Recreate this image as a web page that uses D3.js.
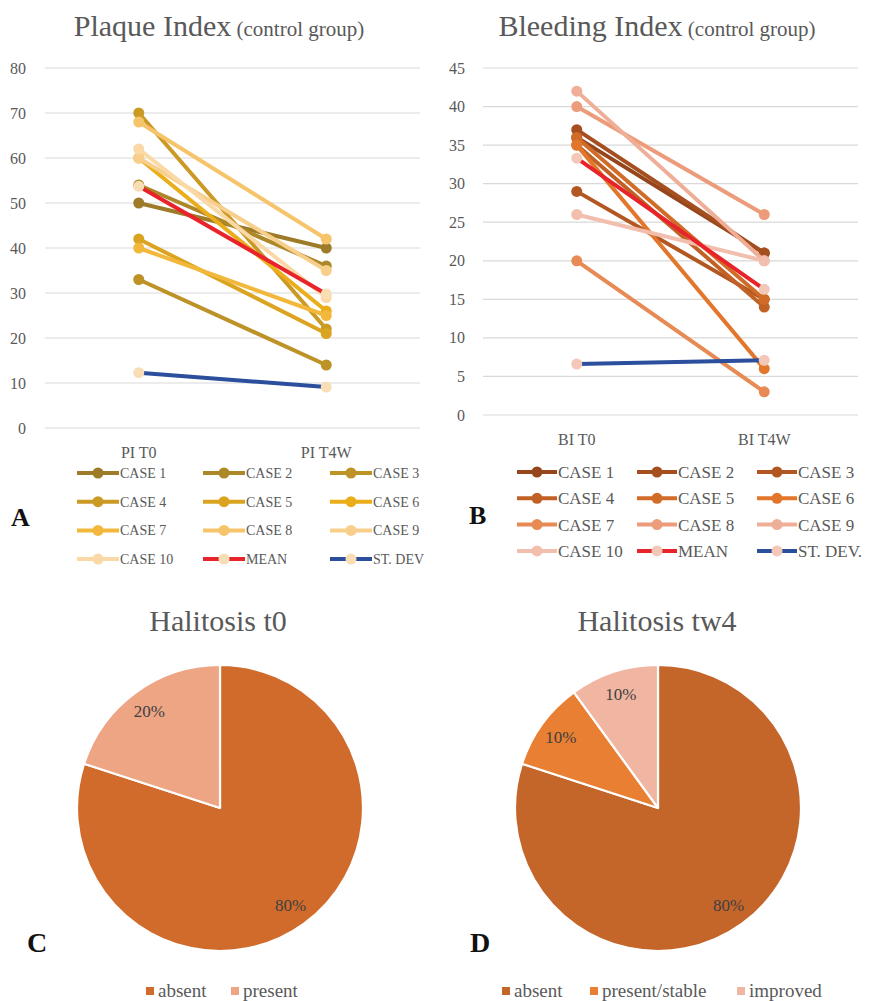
<!DOCTYPE html>
<html>
<head>
<meta charset="utf-8">
<script src="https://cdn.jsdelivr.net/npm/d3@7"></script>
<style>
  html, body { margin: 0; padding: 0; background: #fff; }
  svg { display: block; }
  text { font-family: "Liberation Serif", "DejaVu Serif", serif; }
</style>
</head>
<body>
<svg id="chart" width="869" height="1001"></svg>
<script>
// ---------- DATA ----------
const piCategories = ["PI T0", "PI T4W"];
const piTicks = [0, 10, 20, 30, 40, 50, 60, 70, 80];
const piSeriesNames = ["CASE 1","CASE 2","CASE 3","CASE 4","CASE 5","CASE 6","CASE 7","CASE 8","CASE 9","CASE 10","MEAN","ST. DEV"];
const piCase1 = [50, 40];
const piCase2 = [54, 36];
const piCase3 = [33, 14];
const piCase4 = [70, 22];
const piCase5 = [42, 21];
const piCase6 = [60, 26];
const piCase7 = [40, 25];
const piCase8 = [68, 42];
const piCase9 = [60, 35];
const piCase10 = [62, 29];
const piMean = [53.7, 29.8];
const piStDev = [12.3, 9.1];

const biCategories = ["BI T0", "BI T4W"];
const biTicks = [0, 5, 10, 15, 20, 25, 30, 35, 40, 45];
const biSeriesNames = ["CASE 1","CASE 2","CASE 3","CASE 4","CASE 5","CASE 6","CASE 7","CASE 8","CASE 9","CASE 10","MEAN","ST. DEV."];
const biCase1 = [36, 21];
const biCase2 = [37, 21];
const biCase3 = [29, 15];
const biCase4 = [35, 14];
const biCase5 = [36, 15];
const biCase6 = [35, 6];
const biCase7 = [20, 3];
const biCase8 = [40, 26];
const biCase9 = [42, 20];
const biCase10 = [26, 20];
const biMean = [33.3, 16.3];
const biStDev = [6.6, 7.1];

const halT0Labels = ["absent", "present"];
const halT0Values = [80, 20];
const halT4Labels = ["absent", "present/stable", "improved"];
const halT4Values = [80, 10, 10];

// ---------- STYLES ----------
const piColors = ["#9E7B28","#AD8829","#BD9227","#CB9A25","#DAA420","#EAAE1B","#F2B83C","#F6C46A","#F8CE8B","#FAD9A7","#E8232A","#2B4F9C"];
const piMarkerColors = piColors.slice(0,10).concat(["#F9DDB5","#F9DDB5"]);
const biColors = ["#96461C","#A54E1F","#B35722","#C26126","#D06B28","#E2772B","#E88A53","#EC9C7A","#EFAE97","#F2BFAE","#E8232A","#2B4F9C"];
const biMarkerColors = biColors.slice(0,10).concat(["#F4C8B8","#F4C8B8"]);
const halT0Colors = ["#D16B2B", "#EDA584"];
const halT4Colors = ["#C4652A", "#E97F33", "#F0B6A2"];
const textGray = "#595959";

const svg = d3.select("#chart");
svg.append("rect").attr("width", 869).attr("height", 1001).attr("fill", "#fff");

function lineChart(opts) {
  const g = svg.append("g");
  const x = d3.scalePoint().domain(opts.categories).range([opts.x0, opts.x1]).padding(0.5);
  const y = d3.scaleLinear().domain([0, opts.yMax]).range([opts.yBottom, opts.yTop]);

  // title
  const t = g.append("text").attr("x", opts.titleX).attr("y", opts.titleY)
    .attr("text-anchor", "middle").attr("fill", textGray);
  t.append("tspan").attr("font-size", 30).text(opts.title);
  t.append("tspan").attr("font-size", 21).text(" (control group)");

  // gridlines + tick labels
  g.selectAll(".grid").data(opts.ticks).join("line")
    .attr("x1", opts.x0).attr("x2", opts.x1)
    .attr("y1", d => y(d)).attr("y2", d => y(d))
    .attr("stroke", "#D9D9D9").attr("stroke-width", 1.2);
  g.selectAll(".tl").data(opts.ticks).join("text")
    .attr("x", opts.tickX).attr("y", d => y(d) + 5.5)
    .attr("text-anchor", "end").attr("font-size", 16).attr("fill", textGray)
    .text(d => d);

  // category labels
  g.selectAll(".cat").data(opts.categories).join("text")
    .attr("x", d => x(d)).attr("y", opts.catY)
    .attr("text-anchor", "middle").attr("font-size", 16).attr("fill", textGray)
    .text(d => d);

  const line = d3.line().x((d, i) => x(opts.categories[i])).y(d => y(d));
  opts.series.forEach((s, k) => {
    const sg = g.append("g");
    sg.append("path").datum(s).attr("d", line)
      .attr("fill", "none").attr("stroke", opts.colors[k]).attr("stroke-width", 4)
      .attr("stroke-linecap", "round");
    sg.selectAll("circle").data(s).join("circle")
      .attr("cx", (d, i) => x(opts.categories[i])).attr("cy", d => y(d))
      .attr("r", 5.5).attr("fill", opts.markerColors[k]);
  });

  // legend
  const lg = g.append("g");
  opts.names.forEach((n, k) => {
    const col = k % 3, row = Math.floor(k / 3);
    const lx = opts.legX[col], ly = opts.legY0 + row * opts.legDY;
    lg.append("line").attr("x1", lx).attr("x2", lx + opts.legLen)
      .attr("y1", ly).attr("y2", ly)
      .attr("stroke", opts.colors[k]).attr("stroke-width", 4);
    lg.append("circle").attr("cx", lx + opts.legLen / 2).attr("cy", ly).attr("r", 5.5)
      .attr("fill", opts.markerColors[k]);
    lg.append("text").attr("x", lx + opts.legLen + 1).attr("y", ly + opts.legFont * 0.36)
      .attr("font-size", opts.legFont).attr("fill", textGray).text(n);
  });

  g.append("text").attr("x", opts.letterX).attr("y", opts.letterY)
    .attr("font-size", 26).attr("font-weight", "bold").attr("fill", "#111").text(opts.letter);
}

lineChart({
  categories: piCategories, ticks: piTicks, yMax: 80,
  series: [piCase1, piCase2, piCase3, piCase4, piCase5, piCase6, piCase7, piCase8, piCase9, piCase10, piMean, piStDev],
  names: piSeriesNames, colors: piColors, markerColors: piMarkerColors,
  x0: 45, x1: 420, yBottom: 428, yTop: 68, tickX: 26, catY: 458,
  title: "Plaque Index", titleX: 219, titleY: 36,
  legX: [77, 203, 330], legLen: 42, legY0: 473, legDY: 28.7, legFont: 14,
  letter: "A", letterX: 11, letterY: 526
});

lineChart({
  categories: biCategories, ticks: biTicks, yMax: 45,
  series: [biCase1, biCase2, biCase3, biCase4, biCase5, biCase6, biCase7, biCase8, biCase9, biCase10, biMean, biStDev],
  names: biSeriesNames, colors: biColors, markerColors: biMarkerColors,
  x0: 483, x1: 858, yBottom: 415, yTop: 68, tickX: 465, catY: 445,
  title: "Bleeding Index", titleX: 657, titleY: 36,
  legX: [517, 637, 757], legLen: 40, legY0: 472, legDY: 26.3, legFont: 17,
  letter: "B", letterX: 469, letterY: 524
});

function pieChart(opts) {
  const g = svg.append("g").attr("transform", `translate(${opts.cx},${opts.cy})`);
  const pie = d3.pie().sort(null).value(d => d);
  const arcs = pie(opts.values);
  const arc = d3.arc().innerRadius(0).outerRadius(opts.r);
  g.selectAll("path").data(arcs).join("path")
    .attr("d", arc).attr("fill", (d, i) => opts.colors[i])
    .attr("stroke", "#fff").attr("stroke-width", 2.2).attr("stroke-linejoin", "round");
  const lab = d3.arc().innerRadius(opts.r * 0.84).outerRadius(opts.r * 0.84);
  g.selectAll(".pl").data(arcs).join("text")
    .attr("x", d => lab.centroid(d)[0]).attr("y", d => lab.centroid(d)[1] + 6)
    .attr("text-anchor", "middle").attr("font-size", 17).attr("fill", "#404040")
    .attr("font-family", "'Noto Sans', sans-serif")
    .text(d => d.data + "%");

  svg.append("text").attr("x", opts.titleX).attr("y", opts.titleY)
    .attr("text-anchor", "middle").attr("font-size", 30).attr("fill", textGray).text(opts.title);

  svg.append("text").attr("x", opts.letterX).attr("y", opts.letterY)
    .attr("font-size", 28).attr("font-weight", "bold").attr("fill", "#111").text(opts.letter);

  opts.labels.forEach((l, i) => {
    svg.append("rect").attr("x", opts.legX[i]).attr("y", opts.legY - 10)
      .attr("width", 8).attr("height", 8).attr("fill", opts.colors[i]);
    svg.append("text").attr("x", opts.legX[i] + 12).attr("y", opts.legY)
      .attr("font-size", 19).attr("fill", textGray).text(l);
  });
}

pieChart({
  values: halT0Values, labels: halT0Labels, colors: halT0Colors,
  cx: 220, cy: 808, r: 143, title: "Halitosis t0", titleX: 218, titleY: 631,
  letter: "C", letterX: 27, letterY: 952, legX: [146, 231], legY: 997
});

pieChart({
  values: halT4Values, labels: halT4Labels, colors: halT4Colors,
  cx: 658, cy: 808, r: 143, title: "Halitosis tw4", titleX: 657, titleY: 631,
  letter: "D", letterX: 470, letterY: 952, legX: [502, 590, 737], legY: 997
});
</script>
</body>
</html>
